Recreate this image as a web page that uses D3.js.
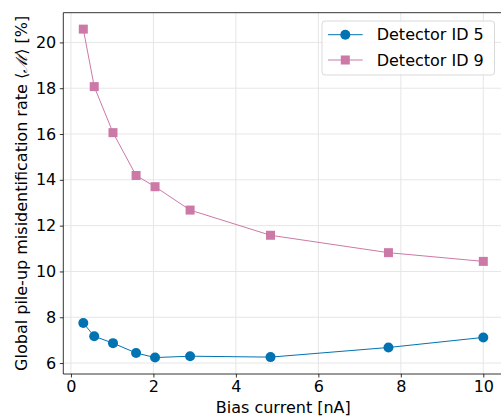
<!DOCTYPE html>
<html><head><meta charset="utf-8">
<script src="https://cdn.jsdelivr.net/npm/d3@7"></script>
<style>body{margin:0;background:#fff}svg{display:block}text{font-family:"DejaVu Sans",sans-serif}</style>
</head><body><svg id="c" width="501" height="416"></svg>
<script>
const biasCurrent = [0.30, 0.565, 1.02, 1.58, 2.04, 2.89, 4.84, 7.70, 10.0];
const detector5 = [7.75, 7.17, 6.87, 6.44, 6.24, 6.30, 6.26, 6.68, 7.12];
const detector9 = [20.58, 18.07, 16.06, 14.19, 13.70, 12.68, 11.58, 10.82, 10.44];
const xTicks = [0, 2, 4, 6, 8, 10];
const yTicks = [6, 8, 10, 12, 14, 16, 18, 20];
const seriesNames = ["Detector ID 5", "Detector ID 9"];
const colors = ["#0173B2", "#CC79A7"];

const svg = d3.select("#c");
const L = 63.3, R = 503.3, T = 12.7, B = 374;
const x = d3.scaleLinear().domain([-0.185, 10.485]).range([L, R]);
const y = d3.scaleLinear().domain([5.523, 21.297]).range([B, T]);

// grid
const g = svg.append("g");
g.selectAll(".gx").data(xTicks).enter().append("line")
  .attr("x1", d => x(d)).attr("x2", d => x(d)).attr("y1", T).attr("y2", B)
  .attr("stroke", "#e6e6e6").attr("stroke-width", 1);
g.selectAll(".gy").data(yTicks).enter().append("line")
  .attr("y1", d => y(d)).attr("y2", d => y(d)).attr("x1", L).attr("x2", R)
  .attr("stroke", "#e6e6e6").attr("stroke-width", 1);

// axes
const xAxis = d3.axisBottom(x).tickValues(xTicks).tickSize(3.5).tickPadding(3.5).tickFormat(d3.format("d"));
const yAxis = d3.axisLeft(y).tickValues(yTicks).tickSize(3.5).tickPadding(3.5).tickFormat(d3.format("d"));
const ax = svg.append("g").attr("transform", `translate(0,${B})`).call(xAxis);
const ay = svg.append("g").attr("transform", `translate(${L},0)`).call(yAxis);
[ax, ay].forEach(a => {
  a.select(".domain").remove();
  a.selectAll(".tick line").attr("stroke", "#000").attr("stroke-width", 0.8);
  a.selectAll(".tick text").attr("font-size", 16).attr("fill", "#000").attr("font-family", "DejaVu Sans");
});
// spines
svg.append("line").attr("x1", L).attr("x2", L).attr("y1", T).attr("y2", B).attr("stroke", "#000").attr("stroke-width", 0.8);
svg.append("line").attr("x1", L).attr("x2", R).attr("y1", T).attr("y2", T).attr("stroke", "#000").attr("stroke-width", 0.8);
svg.append("line").attr("x1", L).attr("x2", R).attr("y1", B).attr("y2", B).attr("stroke", "#000").attr("stroke-width", 0.8);
svg.append("line").attr("x1", R).attr("x2", R).attr("y1", T).attr("y2", B).attr("stroke", "#000").attr("stroke-width", 0.8);

// labels
svg.append("text").attr("x", (L + R) / 2).attr("y", 413).attr("text-anchor", "middle")
  .attr("font-size", 16).text("Bias current [nA]");
const yl = svg.append("text").attr("transform", `translate(27,${(T + B) / 2}) rotate(-90)`)
  .attr("text-anchor", "middle").attr("font-size", 16);
yl.append("tspan").text("Global pile-up misidentification rate \u27E8");
yl.append("tspan").attr("font-style", "italic").attr("font-family", "DejaVu Serif").text("\u2133");
yl.append("tspan").text("\u27E9 [%]");

// series
const line = d3.line().x(d => x(d[0])).y(d => y(d[1]));
const d5 = biasCurrent.map((v, i) => [v, detector5[i]]);
const d9 = biasCurrent.map((v, i) => [v, detector9[i]]);
svg.append("path").datum(d5).attr("d", line).attr("fill", "none").attr("stroke", colors[0]).attr("stroke-width", 1);
svg.selectAll(".c5").data(d5).enter().append("circle")
  .attr("cx", d => x(d[0])).attr("cy", d => y(d[1])).attr("r", 5).attr("fill", colors[0]);
svg.append("path").datum(d9).attr("d", line).attr("fill", "none").attr("stroke", colors[1]).attr("stroke-width", 1);
svg.selectAll(".s9").data(d9).enter().append("rect")
  .attr("x", d => x(d[0]) - 4.5).attr("y", d => y(d[1]) - 4.5).attr("width", 9).attr("height", 9).attr("fill", colors[1]);

// legend
const lg = svg.append("g");
lg.append("rect").attr("x", 322).attr("y", 21).attr("width", 172.5).attr("height", 54).attr("rx", 3)
  .attr("fill", "#fff").attr("fill-opacity", 0.8).attr("stroke", "#d9d9d9").attr("stroke-width", 1);
const rows = [34.7, 60];
rows.forEach((ry, i) => {
  lg.append("line").attr("x1", 328).attr("x2", 362.7).attr("y1", ry).attr("y2", ry).attr("stroke", colors[i]).attr("stroke-width", 1);
  if (i === 0) lg.append("circle").attr("cx", 345.3).attr("cy", ry).attr("r", 5).attr("fill", colors[0]);
  else lg.append("rect").attr("x", 340.8).attr("y", ry - 4.5).attr("width", 9).attr("height", 9).attr("fill", colors[1]);
  lg.append("text").attr("x", 376.7).attr("y", ry).attr("dy", "0.36em").attr("font-size", 16).text(seriesNames[i]);
});
</script></body></html>
